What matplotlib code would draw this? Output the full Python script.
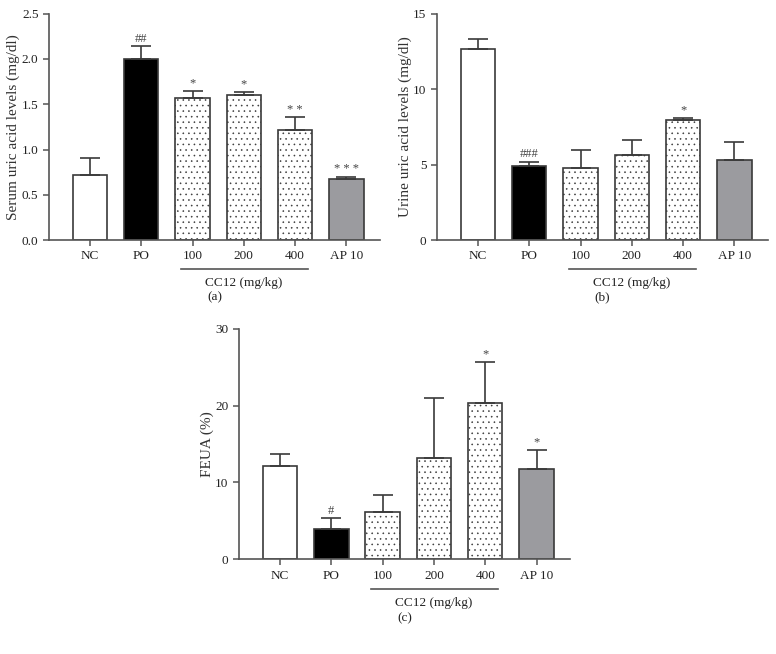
import matplotlib
matplotlib.use("Agg")
import matplotlib.pyplot as plt
import numpy as np

plt.rcParams["font.family"] = ["Liberation Serif", "DejaVu Serif"]
plt.rcParams["hatch.linewidth"] = 0.4
plt.rcParams["hatch.color"] = "#222222"

groups = ["NC", "PO", "100", "200", "400", "AP 10"]

serum_mean = [0.72, 2.00, 1.57, 1.60, 1.22, 0.67]
serum_err = [0.19, 0.14, 0.08, 0.04, 0.14, 0.03]
serum_sig = ["", "##", "*", "*", "* *", "* * *"]

urine_mean = [12.65, 4.90, 4.80, 5.65, 7.95, 5.30]
urine_err = [0.65, 0.30, 1.20, 0.95, 0.15, 1.20]
urine_sig = ["", "###", "", "", "*", ""]

feua_mean = [12.2, 3.9, 6.2, 13.2, 20.3, 11.8]
feua_err = [1.5, 1.4, 2.1, 7.8, 5.4, 2.4]
feua_sig = ["", "#", "", "", "*", "*"]

face = ["white", "black", "white", "white", "white", "#9b9b9f"]
hatch = [None, None, "...", "...", "...", None]
edge = "#3a3a3a"
axc = "#555555"


def draw_panel(ax, mean, err, sig, ymax, ystep, ylabel, fmt, tag):
    x = np.arange(len(groups))
    bars = ax.bar(x, mean, width=0.67, color=face, edgecolor=edge, linewidth=1.2)
    for b, h in zip(bars, hatch):
        if h:
            b.set_hatch(h)
    ax.errorbar(x, mean, yerr=[np.zeros(len(mean)), err], fmt="none",
                ecolor=edge, elinewidth=1.2, capsize=7, capthick=1.2)
    for xi, m, e, s in zip(x, mean, err, sig):
        if s:
            ax.annotate(s, (xi, m + e), xytext=(0, 1), textcoords="offset points",
                        ha="center", va="bottom", fontsize=9, color="#444444")
    ax.set_xlim(-0.8, 5.66)
    ax.set_ylim(0, ymax)
    ticks = np.arange(0, ymax + ystep / 2, ystep)
    ax.set_yticks(ticks)
    ax.set_yticklabels([fmt.format(t) for t in ticks])
    ax.set_xticks(x)
    ax.set_xticklabels(groups)
    ax.set_ylabel(ylabel, fontsize=11, color="#333333", labelpad=1)
    for side in ["top", "right"]:
        ax.spines[side].set_visible(False)
    for side in ["left", "bottom"]:
        ax.spines[side].set_color(axc)
        ax.spines[side].set_linewidth(1.2)
    ax.tick_params(colors=axc, labelcolor="#222222", labelsize=9.5, length=4, width=1.1)
    ax.plot([1.78, 4.25], [-0.128, -0.128], color=axc, lw=1.2,
            transform=ax.get_xaxis_transform(), clip_on=False)
    ax.text(3.0, -0.19, "CC12 (mg/kg)", transform=ax.get_xaxis_transform(),
            ha="center", va="center", fontsize=9.5, color="#222222")
    ax.text(0.5, -0.255, tag, transform=ax.transAxes, ha="center", va="center",
            fontsize=9.5, color="#222222")


fig = plt.figure(figsize=(7.76, 6.54), dpi=100)
ax_a = fig.add_axes([0.063, 0.633, 0.427, 0.346])
ax_b = fig.add_axes([0.563, 0.633, 0.427, 0.346])
ax_c = fig.add_axes([0.308, 0.145, 0.427, 0.352])

draw_panel(ax_a, serum_mean, serum_err, serum_sig, 2.5, 0.5,
           "Serum uric acid levels (mg/dl)", "{:.1f}", "(a)")
draw_panel(ax_b, urine_mean, urine_err, urine_sig, 15, 5,
           "Urine uric acid levels (mg/dl)", "{:.0f}", "(b)")
draw_panel(ax_c, feua_mean, feua_err, feua_sig, 30, 10,
           "FEUA (%)", "{:.0f}", "(c)")

fig.savefig("out.png", dpi=100)
